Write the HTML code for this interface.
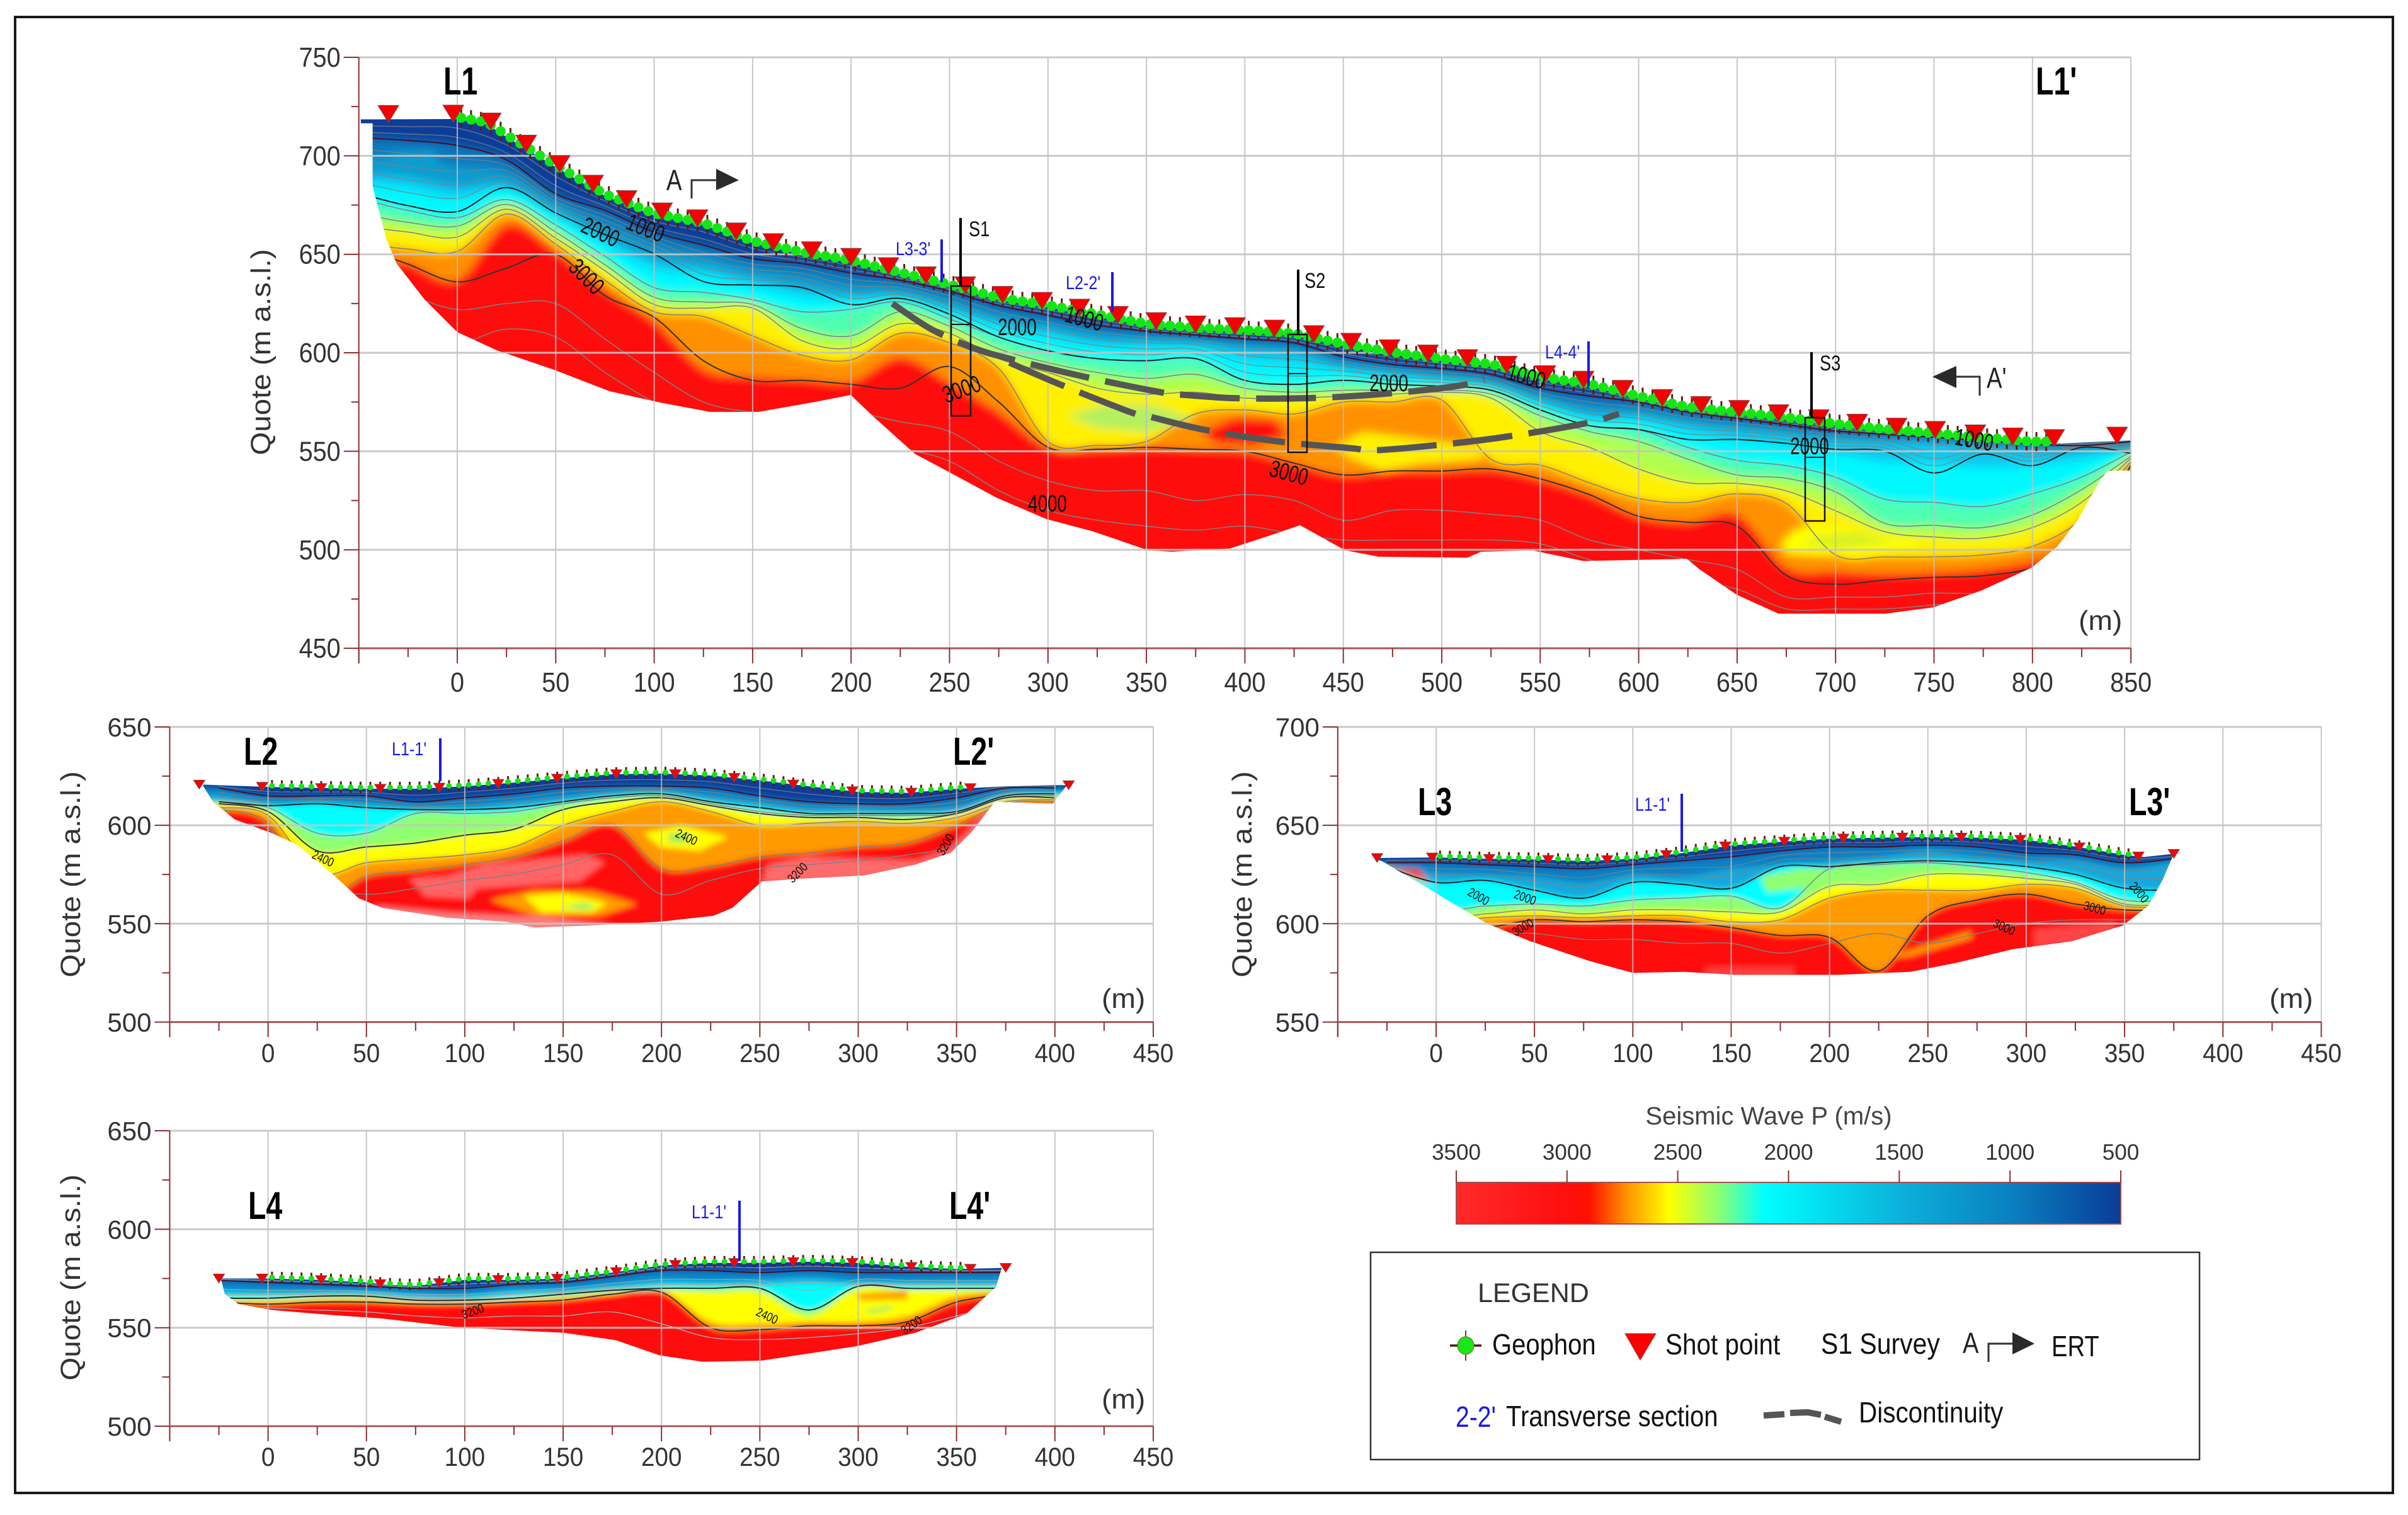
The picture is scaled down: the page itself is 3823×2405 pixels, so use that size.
<!DOCTYPE html>
<html lang="en">
<head>
<meta charset="utf-8">
<title>Seismic refraction tomography sections</title>
<style>
html,body{margin:0;padding:0;background:#fff}
svg{display:block}
text{font-family:"Liberation Sans",sans-serif}
</style>
</head>
<body>
<svg id="figure" xmlns="http://www.w3.org/2000/svg" width="3823" height="2405" viewBox="0 0 3823 2405">
<defs>
<filter id="blur-large" filterUnits="userSpaceOnUse" x="0" y="0" width="3823" height="2405"><feGaussianBlur stdDeviation="7"/></filter>
<filter id="blur-small" filterUnits="userSpaceOnUse" x="0" y="0" width="3823" height="2405"><feGaussianBlur stdDeviation="4.5"/></filter>
<linearGradient id="velocity-gradient" x1="0" x2="1" y1="0" y2="0">
<stop offset="0" stop-color="#ff2a2a"/><stop offset=".16" stop-color="#ff0f0f"/><stop offset=".2" stop-color="#ff1000"/>
<stop offset=".255" stop-color="#ff9000"/><stop offset=".32" stop-color="#ffff00"/><stop offset=".397" stop-color="#88ff77"/>
<stop offset=".464" stop-color="#00ffff"/><stop offset=".659" stop-color="#0cb4dc"/><stop offset=".837" stop-color="#0a7fbf"/>
<stop offset="1" stop-color="#0a3c96"/>
</linearGradient>
</defs>
<rect width="3823" height="2405" fill="#fff"/>
<rect x="24" y="27" width="3775" height="2343" fill="none" stroke="#1a1a1a" stroke-width="4"/>
<g id="panels"></g>

<g fill="#000" font-weight="bold" font-size="62">
<text transform="translate(704,150) scale(.75,1)">L1</text>
<text transform="translate(3232,150) scale(.75,1)">L1'</text>
<text transform="translate(387,1214) scale(.75,1)">L2</text>
<text transform="translate(1513,1214) scale(.75,1)">L2'</text>
<text transform="translate(2251,1294) scale(.75,1)">L3</text>
<text transform="translate(3380,1294) scale(.75,1)">L3'</text>
<text transform="translate(394,1935) scale(.75,1)">L4</text>
<text transform="translate(1507,1935) scale(.75,1)">L4'</text>
</g>

<g fill="#333" font-size="44" text-anchor="middle">
<text transform="translate(429,559) rotate(-90) scale(1.08,1)">Quote (m a.s.l.)</text>
<text transform="translate(127,1388) rotate(-90) scale(1.08,1)">Quote (m a.s.l.)</text>
<text transform="translate(1987,1388) rotate(-90) scale(1.08,1)">Quote (m a.s.l.)</text>
<text transform="translate(127,2028) rotate(-90) scale(1.08,1)">Quote (m a.s.l.)</text>
</g>

<g fill="#333" font-size="44">
<text transform="translate(3300,1000) scale(1.05,1)">(m)</text>
<text transform="translate(1749,1600) scale(1.05,1)">(m)</text>
<text transform="translate(3603,1600) scale(1.05,1)">(m)</text>
<text transform="translate(1749,2236) scale(1.05,1)">(m)</text>
</g>

<g fill="#111" font-size="38">
<text text-anchor="middle" transform="translate(948,380) rotate(25) scale(.73,1)">2000</text>
<text text-anchor="middle" transform="translate(1020,374) rotate(22) scale(.73,1)">1000</text>
<text text-anchor="middle" transform="translate(922,448) rotate(45) scale(.73,1)">3000</text>
<text text-anchor="middle" transform="translate(1531,630) rotate(-20) scale(.73,1)">3000</text>
<text text-anchor="middle" transform="translate(1615,532) scale(.73,1)">2000</text>
<text text-anchor="middle" transform="translate(1718,518) rotate(15) scale(.73,1)">1000</text>
<text text-anchor="middle" transform="translate(1663,812) scale(.73,1)">4000</text>
<text text-anchor="middle" transform="translate(2205,621) scale(.73,1)">2000</text>
<text text-anchor="middle" transform="translate(2043,763) rotate(15) scale(.73,1)">3000</text>
<text text-anchor="middle" transform="translate(2420,610) rotate(15) scale(.73,1)">1000</text>
<text text-anchor="middle" transform="translate(2873,721) scale(.73,1)">2000</text>
<text text-anchor="middle" transform="translate(3132,711) rotate(10) scale(.73,1)">1000</text>
</g>
<g fill="#111" font-size="20" text-anchor="middle">
<text transform="translate(510,1369) rotate(25) scale(.8,1)">2400</text>
<text transform="translate(1087,1335) rotate(25) scale(.8,1)">2400</text>
<text transform="translate(1271,1390) rotate(-45) scale(.8,1)">3200</text>
<text transform="translate(1507,1344) rotate(-60) scale(.8,1)">3200</text>
<text transform="translate(2344,1429) rotate(30) scale(.8,1)">2000</text>
<text transform="translate(2419,1431) rotate(20) scale(.8,1)">2000</text>
<text transform="translate(2421,1478) rotate(-30) scale(.8,1)">3000</text>
<text transform="translate(3179,1478) rotate(25) scale(.8,1)">3000</text>
<text transform="translate(3324,1448) rotate(15) scale(.8,1)">3000</text>
<text transform="translate(3391,1421) rotate(50) scale(.8,1)">2000</text>
<text transform="translate(753,2088) rotate(-20) scale(.8,1)">3200</text>
<text transform="translate(1215,2095) rotate(25) scale(.8,1)">2400</text>
<text transform="translate(1451,2109) rotate(-35) scale(.8,1)">3200</text>
</g>

<g fill="#1a1ae6" font-size="30">
<text transform="translate(1422,405) scale(.84,1)">L3-3'</text>
<line x1="1495" y1="380" x2="1495" y2="448" stroke="#1a1ae6" stroke-width="4"/>
<text transform="translate(1692,459) scale(.84,1)">L2-2'</text>
<line x1="1766" y1="432" x2="1766" y2="495" stroke="#1a1ae6" stroke-width="4"/>
<text transform="translate(2453,569) scale(.84,1)">L4-4'</text>
<line x1="2522" y1="542" x2="2522" y2="613" stroke="#1a1ae6" stroke-width="4"/>
<text transform="translate(622,1199) scale(.84,1)">L1-1'</text>
<line x1="699" y1="1172" x2="699" y2="1240" stroke="#1a1ae6" stroke-width="4"/>
<text transform="translate(2596,1287) scale(.84,1)">L1-1'</text>
<line x1="2670" y1="1260" x2="2670" y2="1352" stroke="#1a1ae6" stroke-width="4"/>
<text transform="translate(1098,1934) scale(.84,1)">L1-1'</text>
<line x1="1174" y1="1906" x2="1174" y2="2002" stroke="#1a1ae6" stroke-width="4"/>
</g>

<g fill="#111" font-size="34">
<line x1="1525" y1="346" x2="1525" y2="454" stroke="#000" stroke-width="4"/>
<text transform="translate(1538,375) scale(.8,1)">S1</text>
<rect x="1510" y="454" width="31" height="206" fill="none" stroke="#111" stroke-width="2.5"/>
<line x1="1510" y1="515" x2="1541" y2="515" stroke="#111" stroke-width="2"/>
<line x1="2061" y1="428" x2="2061" y2="531" stroke="#000" stroke-width="4"/>
<text transform="translate(2071,457) scale(.8,1)">S2</text>
<rect x="2045" y="531" width="30" height="187" fill="none" stroke="#111" stroke-width="2.5"/>
<line x1="2045" y1="593" x2="2075" y2="593" stroke="#111" stroke-width="2"/>
<line x1="2876" y1="559" x2="2876" y2="663" stroke="#000" stroke-width="4"/>
<text transform="translate(2889,588) scale(.8,1)">S3</text>
<rect x="2866" y="663" width="31" height="164" fill="none" stroke="#111" stroke-width="2.5"/>
<line x1="2866" y1="726" x2="2897" y2="726" stroke="#111" stroke-width="2"/>
</g>

<g fill="#222">
<text font-size="46" transform="translate(1058,302) scale(.8,1)">A</text>
<path d="M1098 315V286H1140" fill="none" stroke="#333" stroke-width="3"/>
<path d="M1137 268L1173 286L1137 302Z" fill="#2a2a2a"/>
<text font-size="46" transform="translate(3154,616) scale(.8,1)">A'</text>
<path d="M3143 628V598H3104" fill="none" stroke="#333" stroke-width="3"/>
<path d="M3106 581L3068 598L3106 616Z" fill="#2a2a2a"/>
</g>

<g id="colorbar">
<text x="2808" y="1785" text-anchor="middle" font-size="40" fill="#444">Seismic Wave P (m/s)</text>
<rect x="2312" y="1877" width="1055" height="66" fill="url(#velocity-gradient)" stroke="#a05050" stroke-width="2"/>
</g>

<g>
<rect x="2176" y="1988" width="1316" height="329" fill="#fff" stroke="#333" stroke-width="2.5"/>
<text x="2346" y="2067" font-size="43" fill="#333">LEGEND</text>
<g>
<line x1="2327" y1="2112" x2="2327" y2="2160" stroke="#7a3a20" stroke-width="2"/>
<line x1="2302" y1="2136" x2="2352" y2="2136" stroke="#5a1010" stroke-width="3.5"/>
<ellipse cx="2327" cy="2136" rx="13" ry="14" fill="#18e818" stroke="#6a6a20" stroke-width="1"/>
</g>
<text font-size="46" fill="#111" transform="translate(2369,2150) scale(.87,1)">Geophon</text>
<path d="M2580 2117H2629L2604 2159Z" fill="#f00" stroke="#a04040" stroke-width="1"/>
<text font-size="46" fill="#111" transform="translate(2644,2150) scale(.88,1)">Shot point</text>
<text font-size="46" fill="#111" transform="translate(2891,2149) scale(.89,1)">S1 Survey</text>
<text font-size="46" fill="#222" transform="translate(3116,2148) scale(.83,1)">A</text>
<path d="M3157 2162V2133H3197" fill="none" stroke="#333" stroke-width="3"/>
<path d="M3195 2115L3230 2133L3195 2150Z" fill="#2a2a2a"/>
<text font-size="46" fill="#111" transform="translate(3257,2153) scale(.83,1)">ERT</text>
<text font-size="46" fill="#1a1ae6" transform="translate(2311,2265) scale(.85,1)">2-2'</text>
<text font-size="46" fill="#111" transform="translate(2391,2264) scale(.87,1)">Transverse section</text>
<path d="M2800 2247L2833 2245M2842 2243L2870 2242L2891 2246M2897 2249L2923 2257" fill="none" stroke="#555" stroke-width="10"/>
<text font-size="46" fill="#111" transform="translate(2951,2258) scale(.88,1)">Discontinuity</text>
</g>
</svg>

<script>
/* ---------- shared tick labels ---------- */
const L1_xTickLabels = [0,50,100,150,200,250,300,350,400,450,500,550,600,650,700,750,800,850];
const L1_yTickLabels = [450,500,550,600,650,700,750];
const L2_xTickLabels = [0,50,100,150,200,250,300,350,400,450];
const L2_yTickLabels = [500,550,600,650];
const L3_xTickLabels = [0,50,100,150,200,250,300,350,400,450];
const L3_yTickLabels = [550,600,650,700];
const L4_xTickLabels = [0,50,100,150,200,250,300,350,400,450];
const L4_yTickLabels = [500,550,600,650];
const velocityTicks = [3500,3000,2500,2000,1500,1000,500];

/* ---------- section L1 ---------- */
const L1_surfaceX = [-49,-42,0,15,25,50,75,100,125,150,175,200,225,250,275,300,325,350,375,400,425,450,475,500,525,550,575,600,625,650,675,700,725,750,775,800,815,849];
const L1_surfaceZ = [718.5,718.5,718.7,716,709.6,694.3,679.6,669.8,665,655.8,650.2,646,639.8,633.7,627,623.2,618.5,613.8,611.7,610.6,608.9,603.6,599.3,596,593.3,586.8,583.2,577,571.5,568.9,566.2,563,560.3,558.2,556,554,554,555.5];
const L1_outlineX = [-49,-43,-43,-36,-30.8,-16.5,0,20,48.8,77.3,101.8,128.4,152.9,181.4,199.8,212,232.4,248.8,274,299,323,351,363,392.5,415,428,451,468,513,520,546,572,624.5,631,649.7,671,725.4,749.7,774,799.7,812.6,822.6,831,834,838,849.7,849.7];
const L1_outlineZ = [716.5,716.5,684.5,657.6,645.3,626.9,610.5,601.3,591.5,580.5,575,570,570,575,578.6,567,548.7,540,526.4,515.7,509.3,499.7,499,500.7,508,512.5,499.7,496.5,496,499,499.7,494.3,495.4,490,477.2,467.6,467.6,470.8,479.3,491,501.7,514.5,529.4,534.7,540,540.3,555.5];
const L1_columns = [-45,-25,0,25,50,75,100,125,150,175,200,225,250,275,300,325,350,375,400,425,450,475,500,525,550,575,600,625,650,675,700,725,750,775,800,825,850];
const L1_iso1000 = [709,707.8,705.3,698,680.8,672.3,661.3,654.7,647.8,645.3,640.5,636.8,631.3,624,619,614,611,609,607,605,598,594,592,589,582,578,575,570,566.7,563.5,560.3,558.7,557.1,555.5,553.7,552.9,555];
const L1_iso1500 = [690.6,689.4,684.5,685.7,672.3,658.8,647.8,644,638,633.1,629.4,629.4,623.3,616,612,607,606,605,602,600,593,590,587,584,576,569,568,564,560.9,558.7,556.1,555,554.5,552.9,550.7,550.7,551.8];
const L1_iso1900 = [677,672.3,668.6,677.8,664.9,649,633.1,630.7,627,620.9,622.1,625.8,617.2,608,601,597,596,597,586,584,586,584,583,581,571,563,561,552,545.4,542.7,536.9,525.7,524.1,522,528.4,536.9,549.7];
const L1_iso2200 = [669.8,666.2,664.3,675.3,661.3,644.7,628.2,625.8,624.5,612.3,608.6,620.9,613.5,602,595,590,587,589,582,580,581,581,581,579,568,560,555,546,538,536.3,529.4,513.4,512.4,511.3,517.7,530.5,547.5];
const L1_iso2500 = [663.7,661.3,658.8,672.9,658.2,641.7,624.5,622.7,622.7,606.2,602.5,614.7,609.9,597,590,582,579,580,577,577,578,579,580,577,560,552,541,534,533.7,529.9,519.8,509.2,506.5,506,511.3,524.1,546.5];
const L1_iso2750 = [655,652.7,651.5,670.4,655.1,636.8,620.9,618.4,608.6,598.8,596.4,609.9,605,592,555,553,555,569,571,569,575,575,576,546,543,534,526,524,528.4,523.5,497.4,496.4,496.4,497.4,501.7,515.6,544.9];
const L1_iso2950 = [647.8,645.3,636.8,664.9,651.5,631.9,616,591.5,587.8,586.6,585.4,597.6,585,570,552,551,552,551,550,544,538,540,540,541,536,528,517,514,517.7,491,488.9,487.8,488.4,490,494.2,504.9,543.3];
const L1_contour2000 = [679.6,674.7,671.7,683.9,671,660,650.2,636.2,634.4,633.1,624.5,627.6,619.6,608,601,597,596,597,586,584,586,584,583,581,571,563,561,556,556,554,551,550,539,548.6,542.7,552,549];
const L1_contour3000 = [652,645,636,643,650,629,618,596,586,586,584,582,593,575,552,551,552,551,550,544,538,540,540,541,536,528,517,514,512,487,482.5,484.6,486,486.8,490.5,499,543];
const L1_deepA = [640,630,622,625,625,607,590,575,570,570,570,565,560,545,535,530,530,525,528,525,515,520,520,518,515,505,500,495,490,476,476,476,478,478,482,495,530];
const L1_deepB = [610,610,605,612,608,590,575,565,560,560,560,552,545,530,520,515,512,510,512,508,505,505,505,505,503,495,490,485,480,470,470,470,472,474,478,490,525];
const L1_discontinuityUpperX = [221,240.7,262,280.4,320,357,365,394,432,469,507,521.6];
const L1_discontinuityUpperZ = [625,612,602.5,597,587.5,580,579,577,577,579,583,586.4];
const L1_discontinuityLowerX = [280.4,306,341.6,350,379,417,454.6,464,492,530,572,590];
const L1_discontinuityLowerZ = [595,584,570,568,561,555,551.5,550.4,552.6,557,564,569];
const L1_shotX = [-35,-2,17,35,52,69,86,104,122,141.6,160.5,180,200,219,238,258,277,297,316,335.5,355,375,395,415,435,454,473.5,493,513,533,552.6,572,592,612,631.7,651,671,691.5,711,731,750.6,771,790,811,843];
const L1_geophoneRange = [2,810,5];
const L1_greenLens = [[310,568],[330,574],[355,573],[375,566],[350,560],[325,562]];
const L1_redCore = [[378,560],[395,567],[415,566],[422,558],[405,553],[385,554]];
const L1_yellowTongue = [[445,552],[460,560],[490,556],[520,552],[520,546],[490,544],[470,540],[455,546]];
const L1_skyPatch = [[-35,702],[-12,703],[-8,695],[-25,692]];
const L1_yellowRight = [[672,503],[680,511],[700,512],[712,510],[730,506],[745,503],[720,497],[690,497],[675,498]];
const L1_lensRight = [[682.6,502.8],[691,507],[711,509],[731,503.8],[702,500.6]];

/* ---------- section L2 ---------- */
const L2_surfaceX = [-33,0,25,50,75,100,125,150,175,200,225,250,275,300,325,350,375,400,407];
const L2_surfaceZ = [620.7,619.5,619,618.6,618.6,619.8,621.7,624,626,626.3,625.3,622.9,619.8,617,616.5,618.6,619.8,620.4,620.4];
const L2_outlineX = [-33,-28,-17,2,15,32,46,58,91,121,135.5,161.5,199,226.5,236,251,273,303,329,347,358,369.5,399,405,406.6];
const L2_outlineZ = [620,612,603,596,590,576,563,558,553,551,548,549,551,554,558,571.5,573,574.5,580,586,597,612,611,619,620.4];
const L2_columns = [-25,0,25,50,75,100,125,150,175,200,225,250,275,300,325,350,375,400];
const L2_iso1000 = [619,615,615,615,612,614,616,619,620,620,619,615,612,611,611,614,619,619];
const L2_iso1500 = [616,612,612,611,609,609,612,614,617,618,615,612,609,609,608,609,616,617];
const L2_iso1900 = [612,610,611,609,608,608,609,612,615,616,612,609,606,606,606,607,615,616];
const L2_iso2200 = [612,609,596,596,606,606,607,611,614,615,611,607,605,605,605,606,614,615];
const L2_iso2500 = [611,607,587,589,591,595,598,608,612,614,610,606,604,604,603,606,614,614];
const L2_iso2750 = [609,605,576,581,583,585,589,600,607,612,607,600,601,602,601,604,612,613];
const L2_iso2950 = [608,601,563,574,577,580,584,592,600,578,579,584,586,589,591,600,611,612];
const L2_deepA = [600,598,570,565,568,572,575,580,585,565,572,578,580,582,585,590,605,608];
const L2_shotX = [-35,-3,27,57,87,117,147,177,207,237,267,297,327,357,407];
const L2_geophoneRange = [2,355,5];
const L2_pinkCore = [[72,573],[91,574],[110,580],[161.5,585],[171,581],[158,571.5],[106,568],[102,563],[80,564]];
const L2_pinkEdgeRight = [[251,571],[254,580],[273,584],[329,582],[347,588],[358,600],[368,610],[360,590],[330,575],[300,570]];
const L2_pinkEdgeBottom = [[54,559],[91,555.6],[121,554],[143,553],[175,549],[135.5,545],[91,550],[57.5,555]];
const L2_yellowUpper = [[191,596],[210,600],[234,594],[219,587],[199,589]];
const L2_greenUpper = [[203,596],[215,596],[213,591],[204,591]];
const L2_orangeLower = [[113,562],[135.5,567],[165,566.6],[187.5,560],[169,554],[135.5,554]];
const L2_yellowLower = [[130,564],[150,565.6],[172.7,560.5],[165,555.6],[139,555.6]];
const L2_greenLower = [[148.5,558],[161.5,561],[167,558],[160,557]];

/* ---------- section L3 ---------- */
const L3_surfaceX = [-30,0,25,50,75,100,125,150,175,200,225,250,275,300,325,350,360,375];
const L3_surfaceZ = [633.4,633.7,633,632.7,631.8,633,635.9,639.8,641.6,643.2,643.7,644,643.7,642.6,639.2,634.9,633.9,635.5];
const L3_outlineX = [-30,-28,-4,4,26,48,78,100,126,152,204,241,264,293,323,349,362,369.5,375];
const L3_outlineZ = [632.5,632,618,613,600,591,581,575,575.5,574,574,575.5,580,587,591,599,609,622.6,635.5];
const L3_columns = [-25,0,25,50,75,100,125,150,175,200,225,250,275,300,325,350,375];
const L3_iso1000 = [631,631,630,629,628,630,632,634,637,639,639,640,639,636,635,631,633];
const L3_iso1500 = [630,626,625,624,621,625,624,628,630,632,634,637,634,632,632,628,631];
const L3_iso1900 = [629,621,622,617,613,621,620,618,629,629,631,632,631,629,625,618,617];
const L3_iso2200 = [629,608,609,610,609,612,613,614,608,628,630,631,629,626,621,612,612];
const L3_iso2500 = [628,604,605,607,605,607,607,606,606,619,620,625,625,623,620,610,610];
const L3_iso2750 = [628,602,603,604,603,604,604,601,602,613,617,617,617,620,618,609,609];
const L3_iso2950 = [628,599,598,602,601,602,601,598,594,593,576,604,612,615,610,607,607];
const L3_deepA = [625,595,595,595,592,592,590,590,585,590,595,590,595,600,602,602,602];
const L3_shotX = [-30,-2,27,57,87,117,147,177,207,237,267,297,327,357,375];
const L3_geophoneRange = [2,355,5];
const L3_greenPatch = [[165,624],[185,628],[200,628],[200,618],[185,618],[168,616]];
const L3_orangeStreak = [[226.5,582],[271,596],[273,593],[241,583.5]];
const L3_redCorner = [[-24,628],[-9,627.5],[-2,619.6],[-7,622]];
const L3_paleBottom = [[137,578],[182,578],[182,572],[137,572]];
const L3_paleRight = [[304,597],[345,601],[345,590],[304,588]];

/* ---------- section L4 ---------- */
const L4_surfaceX = [-25,0,25,50,60,75,100,125,150,175,200,225,240,250,275,300,325,350,375];
const L4_surfaceZ = [575,575,574.3,573,571.8,571.2,574.3,574.3,575,578,581.6,582.9,582.9,582.9,583.5,582.9,581,579.8,580.4];
const L4_outlineX = [-25,-24,-22,-15,2,31.6,57.6,98.5,150.5,176.6,199,221,251,299,329,355,370,373,375];
const L4_outlineZ = [575,575,567,562,559,556.5,554.7,550,547.4,543.7,536,532.7,533.3,540.6,547.4,557,570.6,580.4,580.4];
const L4_columns = [-25,0,25,50,75,100,125,150,175,200,225,250,275,300,325,350,375];
const L4_iso1000 = [574,573,572,571,570,570,572,573,576,579,579,578,579,578,578,578,578];
const L4_iso1500 = [570,569,569,569,568,567,570,570,572,575,574,575,576,574,574,574,574];
const L4_iso1900 = [567,567,567,567,565,565,567,568,570,572,572,572,573,572,572,572,572];
const L4_iso2200 = [565,565,566,566,564,564,565,567,569,570,570,570,559,571,570,570,570];
const L4_iso2500 = [564,564,565,565,564,563,565,566,568,569,568,568,556,570,569,569,569];
const L4_iso2750 = [563,563,564,564,563,563,564,565,567,569,553,552,553,553,556,566,568];
const L4_iso2950 = [563,562,563,563,562,562,563,564,567,568,550,549,551,551,553,563,567];
const L4_deepA = [560,560,559,558,556,555,556,556,558,552,545,544,545,547,550,556,562];
const L4_shotX = [-25,-3,27,57,87,117,147,177,207,237,267,297,327,357,375];
const L4_geophoneRange = [2,355,5];
const L4_orangePatch = [[299,567],[325,569],[325,564.5],[301,564]];
const L4_greenPatch = [[303,559],[316,561.4],[318,559.6],[306.5,557]];

const BAND_RED='#ff1010';
const NS='http://www.w3.org/2000/svg';
const root=document.getElementById('panels');
function mk(tag,attrs,parent,name){
  const el=document.createElementNS(NS,tag);
  for(const k in attrs) el.setAttribute(k,attrs[k]);
  
  
  parent.appendChild(el);
  return el;
}
function interp(xs,zs,x){
  if(x<=xs[0]) return zs[0];
  for(let i=1;i<xs.length;i++){ if(x<=xs[i]){ const t=(x-xs[i-1])/(xs[i]-xs[i-1]); return zs[i-1]+t*(zs[i]-zs[i-1]); } }
  return zs[zs.length-1];
}
const blend=(a,b,t)=>a.map((v,i)=>v+(b[i]-v)*t);
function smooth(pts,start){
  let d=(start?'M':'L')+pts[0][0].toFixed(1)+' '+pts[0][1].toFixed(1);
  for(let i=0;i<pts.length-1;i++){
    const p0=pts[Math.max(i-1,0)],p1=pts[i],p2=pts[i+1],p3=pts[Math.min(i+2,pts.length-1)];
    const c1x=p1[0]+(p2[0]-p0[0])/6,c1y=p1[1]+(p2[1]-p0[1])/6,c2x=p2[0]-(p3[0]-p1[0])/6,c2y=p2[1]-(p3[1]-p1[1])/6;
    d+='C'+c1x.toFixed(1)+' '+c1y.toFixed(1)+' '+c2x.toFixed(1)+' '+c2y.toFixed(1)+' '+p2[0].toFixed(1)+' '+p2[1].toFixed(1);
  }
  return d;
}
function poly(pts){ return 'M'+pts.map(p=>p[0].toFixed(1)+' '+p[1].toFixed(1)).join('L')+'Z'; }
function label(parent,x,y,str,size,sx,anchor,name){
  const t=mk('text',{transform:'translate('+x+','+y+') scale('+sx+',1)','font-size':size,fill:'#333','text-anchor':anchor},parent,name);
  t.textContent=str;
  return t;
}

function smallLayers(a,b,c,d,e,f,g){
  return [[g,'#ff9a00','band-orange'],[f,'#ffff00','band-yellow'],[e,'#90ff70','band-green'],[d,'#00ffff','band-cyan'],[c,'#18a8dc','band-sky'],[b,'#0e80c4','band-blue'],[a,'#0a3c9a','band-dark']];
}

function drawPanel(p){
  const g=mk('g',{},root,'panel-'+p.id);
  const X=m=>p.x0+m*p.kx;
  const Y=z=>p.yTop+(p.zMax-z)*p.ky;
  const left=X(p.mMin), right=X(p.mMax), top=Y(p.zMax), bottom=Y(p.zMin);

  /* section clip from surface and bottom outline */
  const clipPts=[];
  p.surfaceX.forEach((m,i)=>clipPts.push([X(m),Y(p.surfaceZ[i])]));
  for(let i=p.outlineX.length-1;i>=0;i--) clipPts.push([X(p.outlineX[i]),Y(p.outlineZ[i])]);
  const clip=mk('clipPath',{id:'clip-'+p.id},g,'section-clip');
  mk('path',{d:poly(clipPts)},clip,'section-clip-shape');

  const sec=mk('g',{'clip-path':'url(#clip-'+p.id+')'},g,'velocity-section');
  const fill=mk('g',{filter:'url(#'+p.blur+')'},sec,'velocity-field');
  mk('rect',{x:left-20,y:top-50,width:right-left+40,height:bottom-top+100,fill:BAND_RED},fill,'band-red');
  const toPts=zs=>p.columns.map((m,i)=>[X(m),Y(zs[i])]);
  p.layers.forEach(b=>{
    const pts=toPts(b[0]);
    const d='M'+(left-60)+' '+(top-60)+'L'+(left-60)+' '+pts[0][1].toFixed(1)+smooth(pts,false)+'L'+(right+60)+' '+pts[pts.length-1][1].toFixed(1)+'L'+(right+60)+' '+(top-60)+'Z';
    mk('path',{d:d,fill:b[1]},fill,b[2]);
  });
  p.blobs.forEach(b=>{
    mk('path',{d:poly(b[0].map(q=>[X(q[0]),Y(q[1])])),fill:b[1]},fill,b[2]);
  });

  /* contour lines */
  const lines=mk('g',{fill:'none'},sec,'contour-lines');
  const surfAt=p.columns.map(m=>interp(p.surfaceX,p.surfaceZ,m));
  p.upperFracs.forEach(t=>{
    mk('path',{d:smooth(toPts(blend(surfAt,p.iso1000,t)),true),stroke:p.thinColor,'stroke-opacity':.75,'stroke-width':p.lineW},lines,'contour-minor');
  });
  p.lowerFracs.forEach(t=>{
    mk('path',{d:smooth(toPts(blend(p.iso1000,p.contour2000,t)),true),stroke:p.thinColor,'stroke-opacity':.75,'stroke-width':p.lineW},lines,'contour-minor');
  });
  p.grayLines.forEach(z=>{
    mk('path',{d:smooth(toPts(z),true),stroke:p.thinColor,'stroke-width':p.lineW},lines,'contour-gray');
  });
  p.deep.forEach((z,i)=>{
    mk('path',{d:smooth(toPts(z),true),stroke:p.thinColor,'stroke-width':p.lineW},lines,'contour-deep');
  });
  [[p.iso1000,'#4a0c28'],[p.contour2000,'#222'],[p.contour3000,'#333']].forEach(c=>{
    mk('path',{d:smooth(toPts(c[0]),true),stroke:c[1],'stroke-width':p.lineW+.5},lines,'contour-major');
  });

  /* grid and axes */
  const grid=mk('g',{},g,'grid');
  p.xTicks.forEach(v=>{
    mk('line',{x1:X(v),x2:X(v),y1:top,y2:bottom,stroke:'#bdbdbd','stroke-opacity':.85,'stroke-width':2},grid,'grid-vertical');
  });
  p.yTicks.forEach(v=>{
    mk('line',{x1:left,x2:right,y1:Y(v),y2:Y(v),stroke:'#c4c4c4','stroke-opacity':.9,'stroke-width':3},grid,'grid-horizontal');
  });
  const axes=mk('g',{stroke:'#8c2f2f','stroke-width':2},g,'axes');
  mk('line',{x1:left,x2:left,y1:top,y2:bottom+p.tick},axes,'y-axis-line');
  mk('line',{x1:left,x2:right,y1:bottom,y2:bottom,'stroke-width':3,stroke:'#a85a5a'},axes,'x-axis-line');
  [p.mMin].concat(p.xTicks).forEach((v,i,a)=>{
    mk('line',{x1:X(v),x2:X(v),y1:bottom,y2:bottom+p.tick},axes,'x-tick-major');
    if(i<a.length-1) mk('line',{x1:X(v+25),x2:X(v+25),y1:bottom,y2:bottom+p.tick/2+2},axes,'x-tick-minor');
  });
  p.yTicks.forEach((v,i)=>{
    mk('line',{x1:left-24,x2:left,y1:Y(v),y2:Y(v)},axes,'y-tick-major');
    if(i<p.yTicks.length-1) mk('line',{x1:left-12,x2:left,y1:Y(v+25),y2:Y(v+25)},axes,'y-tick-minor');
  });
  p.xTicks.forEach(v=>{ label(g,X(v),p.xLabelY,String(v),p.fontX,p.sxX,'middle','x-tick-label'); });
  p.yTicks.forEach(v=>{ label(g,left-29,Y(v)+15,String(v),p.fontY,p.sxY,'end','y-tick-label'); });

  /* discontinuity traces */
  p.disc.forEach(d=>{
    mk('path',{d:smooth(d[0].map((m,i)=>[X(m),Y(d[1][i])]),true),fill:'none',stroke:'#555','stroke-width':10,'stroke-dasharray':'95 26'},g,'discontinuity-line');
  });

  /* geophones and shot points */
  const marks=mk('g',{},g,'acquisition-array');
  const gx=[];
  for(let m=p.geo[0];m<=p.geo[1];m+=p.geo[2]) gx.push(m);
  gx.forEach(m=>{
    const cx=X(m), cy=Y(interp(p.surfaceX,p.surfaceZ,m))-p.geoLift;
    mk('line',{x1:cx,x2:cx,y1:cy-p.stem,y2:cy+p.stem,stroke:'#6a1414','stroke-width':3},marks,'geophone-stem');
    mk('ellipse',{cx:cx,cy:cy,rx:p.geoR,ry:p.geoR,fill:'#14e614'},marks,'geophone');
  });
  p.shots.forEach(m=>{
    const tx=X(m), ty=Y(interp(p.surfaceX,p.surfaceZ,m))+p.tipOffset;
    mk('path',{d:'M'+(tx-p.triW/2)+' '+(ty-p.triH)+'H'+(tx+p.triW/2)+'L'+tx+' '+ty+'Z',fill:'#f40000',stroke:'#8a4040','stroke-width':1},marks,'shot-point');
  });
}

drawPanel({id:'l1',x0:726,kx:3.126,yTop:91,zMax:750,ky:3.127,zMin:450,mMin:-50,mMax:850,tick:24,blur:'blur-large',
  surfaceX:L1_surfaceX,surfaceZ:L1_surfaceZ,outlineX:L1_outlineX,outlineZ:L1_outlineZ,columns:L1_columns,
  iso1000:L1_iso1000,contour2000:L1_contour2000,contour3000:L1_contour3000,
  layers:[[L1_iso2950,'#ff9000','band-orange'],[L1_iso2750,'#fff000','band-yellow'],[L1_iso2500,'#b0ff50','band-lime'],[L1_iso2200,'#50ffb0','band-teal'],[L1_iso1900,'#00f8ff','band-cyan'],[blend(L1_iso1500,L1_iso1900,.35),'#08c8ee','band-light'],[L1_iso1500,'#0e9cd0','band-sky'],[blend(L1_iso1000,L1_iso1500,.5),'#0a78bc','band-blue'],[L1_iso1000,'#0a3c9a','band-dark']],
  grayLines:[L1_iso1900,L1_iso2200,L1_iso2500,L1_iso2750],
  upperFracs:[.35,.7],lowerFracs:[.2,.4,.6,.8],
  deep:[L1_deepA,L1_deepB],xTicks:L1_xTickLabels,yTicks:L1_yTickLabels,shots:L1_shotX,geo:L1_geophoneRange,
  disc:[[L1_discontinuityUpperX,L1_discontinuityUpperZ],[L1_discontinuityLowerX,L1_discontinuityLowerZ]],
  blobs:[[L1_skyPatch,'#0e9cd0','sky-patch'],[L1_greenLens,'#b4f060','green-lens'],[L1_redCore,BAND_RED,'red-core'],[L1_yellowTongue,'#fff000','yellow-tongue'],[L1_yellowRight,'#ffff00','yellow-lens'],[L1_lensRight,'#d8f020','yellow-lens-core']],
  thinColor:'#808080',lineW:1.5,geoR:8,stem:15,geoLift:3,tipOffset:5,triW:33,triH:27,xLabelY:1098,fontX:44,sxX:.9,fontY:44,sxY:.9});

drawPanel({id:'l2',x0:425.6,kx:3.123,yTop:1154,zMax:650,ky:3.123,zMin:500,mMin:-50,mMax:450,tick:24,blur:'blur-small',
  surfaceX:L2_surfaceX,surfaceZ:L2_surfaceZ,outlineX:L2_outlineX,outlineZ:L2_outlineZ,columns:L2_columns,
  iso1000:L2_iso1000,contour2000:L2_iso1900,contour3000:L2_iso2500,
  layers:smallLayers(L2_iso1000,L2_iso1500,L2_iso1900,L2_iso2200,L2_iso2500,L2_iso2750,L2_iso2950),
  grayLines:[L2_iso2200,L2_iso2750,L2_iso2950],upperFracs:[.5],lowerFracs:[.3,.6],
  deep:[L2_deepA],xTicks:L2_xTickLabels,yTicks:L2_yTickLabels,shots:L2_shotX,geo:L2_geophoneRange,disc:[],
  blobs:[[L2_pinkCore,'#ff6565','pink-core'],[L2_pinkEdgeRight,'#ff6a6a','pink-edge'],[L2_pinkEdgeBottom,'#ff8080','pink-edge'],[L2_yellowUpper,'#ffff00','yellow-anomaly'],[L2_greenUpper,'#a8ee50','green-anomaly'],[L2_orangeLower,'#ff9a00','orange-anomaly'],[L2_yellowLower,'#ffff00','yellow-anomaly'],[L2_greenLower,'#a0ee60','green-anomaly']],
  thinColor:'#808080',lineW:1.4,geoR:4.5,stem:9,geoLift:2,tipOffset:7,triW:18,triH:14,xLabelY:1686,fontX:42,sxX:.92,fontY:42,sxY:1});

drawPanel({id:'l3',x0:2280,kx:3.123,yTop:1154,zMax:700,ky:3.123,zMin:550,mMin:-50,mMax:450,tick:24,blur:'blur-small',
  surfaceX:L3_surfaceX,surfaceZ:L3_surfaceZ,outlineX:L3_outlineX,outlineZ:L3_outlineZ,columns:L3_columns,
  iso1000:L3_iso1000,contour2000:L3_iso1900,contour3000:L3_iso2950,
  layers:smallLayers(L3_iso1000,L3_iso1500,L3_iso1900,L3_iso2200,L3_iso2500,L3_iso2750,L3_iso2950),
  grayLines:[L3_iso2200,L3_iso2500,L3_iso2750],upperFracs:[.5],lowerFracs:[.3,.6],
  deep:[L3_deepA],xTicks:L3_xTickLabels,yTicks:L3_yTickLabels,shots:L3_shotX,geo:L3_geophoneRange,disc:[],
  blobs:[[L3_greenPatch,'#90ff70','green-patch'],[L3_orangeStreak,'#ff9a00','orange-streak'],[L3_redCorner,'#ff3000','red-corner'],[L3_paleBottom,'#ff3c3c','pale-red'],[L3_paleRight,'#ff4545','pale-red']],
  thinColor:'#808080',lineW:1.4,geoR:4.5,stem:9,geoLift:2,tipOffset:7,triW:18,triH:14,xLabelY:1686,fontX:42,sxX:.92,fontY:42,sxY:1});

drawPanel({id:'l4',x0:425.6,kx:3.123,yTop:1795,zMax:650,ky:3.127,zMin:500,mMin:-50,mMax:450,tick:24,blur:'blur-small',
  surfaceX:L4_surfaceX,surfaceZ:L4_surfaceZ,outlineX:L4_outlineX,outlineZ:L4_outlineZ,columns:L4_columns,
  iso1000:L4_iso1000,contour2000:L4_iso2200,contour3000:L4_iso2950,
  layers:smallLayers(L4_iso1000,L4_iso1500,L4_iso1900,L4_iso2200,L4_iso2500,L4_iso2750,L4_iso2950),
  grayLines:[L4_iso1900],upperFracs:[.5],lowerFracs:[.5],
  deep:[L4_deepA],xTicks:L4_xTickLabels,yTicks:L4_yTickLabels,shots:L4_shotX,geo:L4_geophoneRange,disc:[],
  blobs:[[L4_orangePatch,'#ff9a00','orange-patch'],[L4_greenPatch,'#a8ee50','green-patch']],
  thinColor:'#a8a8a8',lineW:1.4,geoR:4.5,stem:9,geoLift:2,tipOffset:7,triW:18,triH:14,xLabelY:2327,fontX:42,sxX:.92,fontY:42,sxY:1});

/* colour-bar ticks */
const cb=document.getElementById('colorbar');
const velocityX=v=>2312+(3500-v)*(3367-2312)/3000;
velocityTicks.forEach(v=>{
  mk('line',{x1:velocityX(v),x2:velocityX(v),y1:1858,y2:1877,stroke:'#8c2f2f','stroke-width':2},cb,'colorbar-tick');
  const t=mk('text',{x:velocityX(v),y:1841,'text-anchor':'middle','font-size':35,fill:'#333'},cb,'colorbar-tick-label');
  t.textContent=String(v);
});
</script>
</body>
</html>
